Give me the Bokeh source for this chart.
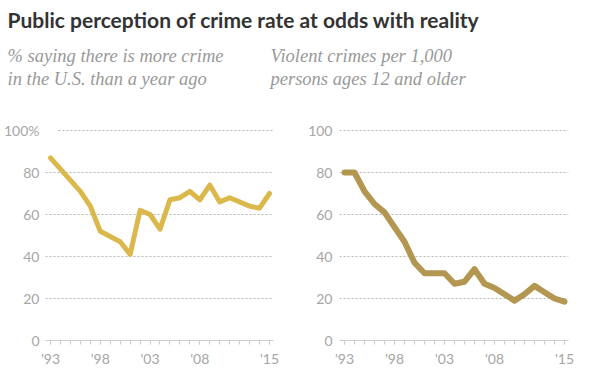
from bokeh.plotting import figure
from bokeh.layouts import column, row
from bokeh.models import Label, FixedTicker, Range1d, Grid
from bokeh.embed import file_html
from bokeh.resources import INLINE

# ---- data ----
title_text = "Public perception of crime rate at odds with reality"
left_sub = ["% saying there is more crime", "in the U.S. than a year ago"]
right_sub = ["Violent crimes per 1,000", "persons ages 12 and older"]

left_years = [1993, 1996, 1997, 1998, 2000, 2001, 2002, 2003, 2004, 2005, 2006,
              2007, 2008, 2009, 2010, 2011, 2013, 2014, 2015]
left_vals = [87, 71, 64, 52, 47, 41, 62, 60, 53, 67, 68, 71, 67, 74, 66, 68, 64, 63, 70]

right_years = list(range(1993, 2016))
right_vals = [80, 80, 71, 65, 61, 54, 47, 37, 32, 32, 32, 27, 28, 34, 27, 25, 22, 19,
              22, 26, 23, 20, 18.5]

x_ticks = [1993, 1998, 2003, 2008, 2015]
x_tick_labels = ["'93", "'98", "'03", "'08", "'15"]
y_ticks = [0, 20, 40, 60, 80, 100]
grid_ticks = [20, 40, 60, 80]
top_tick = [100]

SANS = "Lato"
SERIF = "Liberation Serif"
LABEL_COL = "#a6a6a6"

# ---- title area ----
tf = figure(width=592, height=98, x_range=(0, 1), y_range=(0, 1),
            x_axis_type=None, y_axis_type=None, toolbar_location=None,
            output_backend="svg", min_border=0, outline_line_color=None)
tf.xgrid.visible = False
tf.ygrid.visible = False
tf.add_layout(Label(x=7, y=79, x_units="screen", y_units="screen", text=title_text,
                    text_font=SANS, text_font_style="bold", text_font_size="21px",
                    text_color="#333333", text_baseline="alphabetic"))
for xs, lines in ((7, left_sub), (270, right_sub)):
    for yy, t in zip((43, 20), lines):
        tf.add_layout(Label(x=xs, y=yy, x_units="screen", y_units="screen", text=t,
                            text_font=SERIF, text_font_style="italic",
                            text_font_size="18.5px", text_color="#999999",
                            text_baseline="alphabetic"))


def make_chart(years, vals, color, lw, border_left, border_right, fw, standoff,
               top_start, labels):
    p = figure(frame_width=fw, frame_height=218,
               x_range=Range1d(1992.5, 2015.4), y_range=Range1d(0, 218 / 2.1),
               toolbar_location=None, output_backend="svg",
               min_border_left=border_left, min_border_right=border_right,
               min_border_top=24, min_border_bottom=32, outline_line_color=None)
    p.xgrid.visible = False
    p.ygrid.ticker = FixedTicker(ticks=grid_ticks)
    grids = [p.ygrid[0]]
    g2 = Grid(dimension=1, ticker=FixedTicker(ticks=top_tick),
              cross_bounds=(top_start, 2015.4))
    p.add_layout(g2)
    grids.append(g2)
    for g in grids:
        g.grid_line_color = "#b5b5b5"
        g.grid_line_dash = "2 2"
        g.grid_line_width = 1

    ya = p.yaxis[0]
    ya.ticker = FixedTicker(ticks=y_ticks)
    ya.major_label_overrides = labels
    ya.axis_line_color = None
    ya.major_tick_line_color = None
    ya.minor_tick_line_color = None
    ya.major_tick_in = 0
    ya.major_tick_out = 0
    ya.minor_tick_in = 0
    ya.minor_tick_out = 0
    ya.major_label_standoff = standoff
    ya.major_label_text_font = SANS
    ya.major_label_text_font_size = "14px"
    ya.major_label_text_color = LABEL_COL

    xa = p.xaxis[0]
    xa.ticker = FixedTicker(ticks=x_ticks, minor_ticks=list(range(1993, 2016)))
    xa.major_label_overrides = dict(zip(x_ticks, x_tick_labels))
    xa.axis_line_color = "#cccccc"
    xa.major_tick_line_color = "#cccccc"
    xa.minor_tick_line_color = "#cccccc"
    xa.major_tick_in = 0
    xa.major_tick_out = 4
    xa.minor_tick_in = 0
    xa.minor_tick_out = 4
    xa.major_label_standoff = 5
    xa.major_label_text_font = SANS
    xa.major_label_text_font_size = "14px"
    xa.major_label_text_color = LABEL_COL

    p.line(years, vals, line_color=color, line_width=lw, line_join="round",
           line_cap="round")
    return p


left = make_chart(left_years, left_vals, "#dbb84c", 5, 44, 16, 228, 6,
                  1993.8, {100: "100%"})
right = make_chart(right_years, right_vals, "#b39650", 6, 50, 25, 229, 7,
                   1992.5, {})

layout = column(tf, row(left, right))
open("out.html", "w").write(file_html(layout, INLINE))
